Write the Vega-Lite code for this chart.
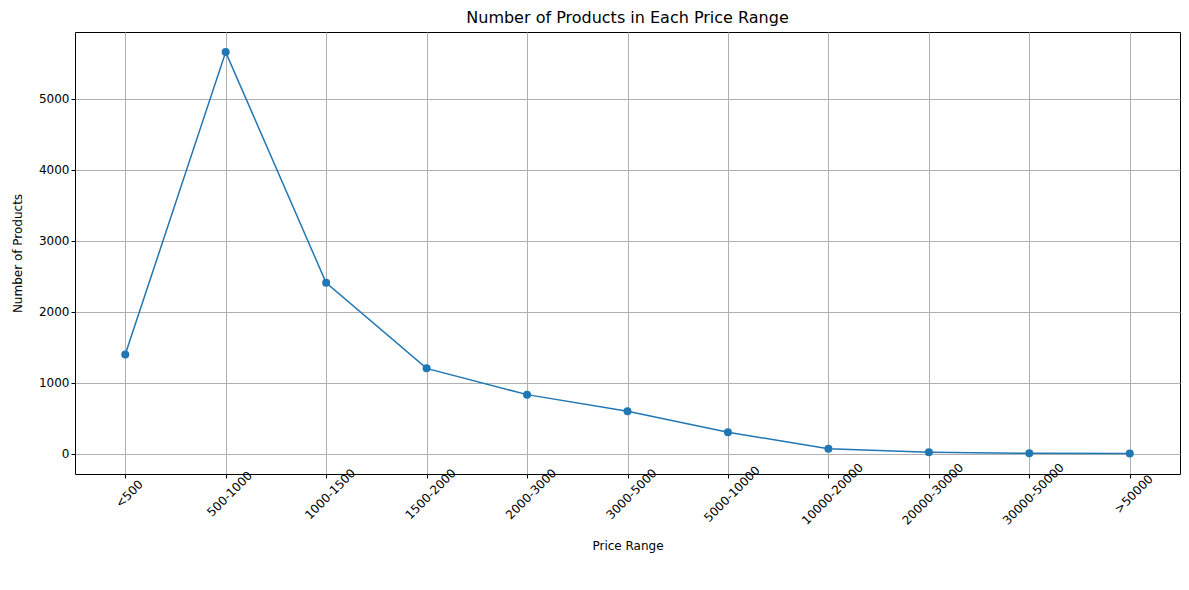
{
  "$schema": "https://vega.github.io/schema/vega-lite/v6.json",
  "autosize": "none",
  "padding": {"left": 75, "top": 32, "right": 9, "bottom": 116},
  "width": 1105,
  "height": 442,
  "title": {"text": "Number of Products in Each Price Range", "fontSize": 16, "fontWeight": "normal", "font": "DejaVu Sans", "offset": 6, "color": "black"},
  "data": {"values": [
    {"range": "<500", "count": 1400},
    {"range": "500-1000", "count": 5660},
    {"range": "1000-1500", "count": 2410},
    {"range": "1500-2000", "count": 1205},
    {"range": "2000-3000", "count": 835},
    {"range": "3000-5000", "count": 600},
    {"range": "5000-10000", "count": 305},
    {"range": "10000-20000", "count": 72},
    {"range": "20000-30000", "count": 25},
    {"range": "30000-50000", "count": 8},
    {"range": ">50000", "count": 5}
  ]},
  "encoding": {
    "x": {"field": "range", "type": "ordinal", "sort": null, "title": "Price Range",
      "scale": {"type": "point", "padding": 0.5},
      "axis": {"labelAngle": -45, "labelAlign": "center", "labelBaseline": "top", "labelPadding": 12, "grid": true, "gridColor": "#b0b0b0", "titlePadding": 14}},
    "y": {"field": "count", "type": "quantitative", "title": "Number of Products",
      "scale": {"domain": [-283, 5943], "nice": false, "zero": false},
      "axis": {"values": [0, 1000, 2000, 3000, 4000, 5000], "format": "d", "grid": true, "gridColor": "#b0b0b0", "titlePadding": 14}}
  },
  "layer": [
    {"mark": {"type": "line", "color": "#1f77b4", "strokeWidth": 1.5}},
    {"mark": {"type": "point", "filled": true, "color": "#1f77b4", "size": 64, "opacity": 1}}
  ],
  "config": {
    "view": {"stroke": "black", "strokeWidth": 1},
    "axis": {"domain": false, "tickColor": "black", "labelColor": "black", "titleColor": "black", "labelFont": "DejaVu Sans", "titleFont": "DejaVu Sans", "labelFontSize": 12, "titleFontSize": 12, "titleFontWeight": "normal", "tickSize": 4}
  }
}
